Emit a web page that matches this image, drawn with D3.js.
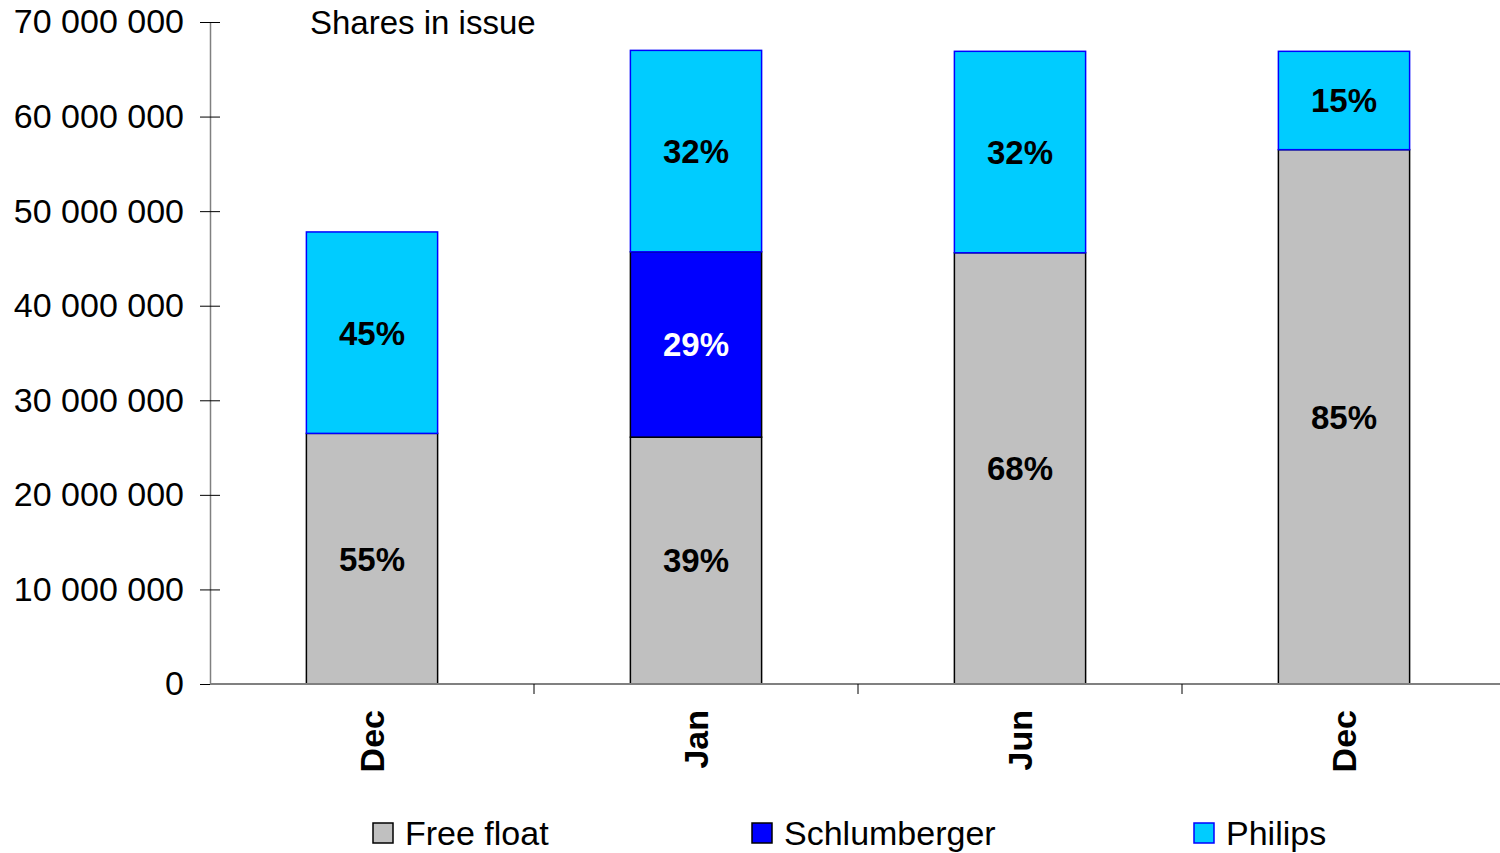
<!DOCTYPE html>
<html>
<head>
<meta charset="utf-8">
<script src="https://cdn.jsdelivr.net/npm/d3@7"></script>
<style>
  body { margin: 0; background: #fff; }
  text { font-family: "Liberation Sans", Arial, sans-serif; }
</style>
</head>
<body>
<div id="chart"></div>
<script>
var w = 1500;
var h = 853;

// data
var periods = ["Dec", "Jan", "Jun", "Dec"];
var freeFloat = [26500000, 26100000, 45600000, 56500000];
var schlumberger = [0, 19600000, 0, 0];
var philips = [21300000, 21300000, 21300000, 10400000];
var freeFloatPct = ["55%", "39%", "68%", "85%"];
var schlumbergerPct = ["", "29%", "", ""];
var philipsPct = ["45%", "32%", "32%", "15%"];
var seriesNames = ["Free float", "Schlumberger", "Philips"];
var yTicks = [0, 10000000, 20000000, 30000000, 40000000, 50000000, 60000000, 70000000];

var fills = ["#c0c0c0", "#0000ff", "#00ccff"];
var strokes = ["#000000", "#000000", "#0000ff"];
var labelColors = ["#000", "#fff", "#000"];
var pctLabels = [freeFloatPct, schlumbergerPct, philipsPct];

var rows = periods.map(function (p, i) {
    return { idx: i, period: p, "Free float": freeFloat[i], "Schlumberger": schlumberger[i], "Philips": philips[i] };
});

var stacked = d3.stack().keys(seriesNames)(rows);

var xScale = d3.scaleBand()
    .domain(rows.map(function (d) { return d.idx; }))
    .range([210, 1506])
    .paddingInner(0.595)
    .paddingOuter(0.2975);

var yScale = d3.scaleLinear()
    .domain([0, 70000000])
    .range([684, 22]);

var svg = d3.select("#chart")
    .append("svg")
    .attr("width", w)
    .attr("height", h);

// bars
stacked.forEach(function (layer, s) {
    svg.append("g")
        .selectAll("rect")
        .data(layer.filter(function (d) { return d[1] > d[0]; }))
        .enter()
        .append("rect")
        .attr("x", function (d) { return xScale(d.data.idx); })
        .attr("y", function (d) { return yScale(d[1]); })
        .attr("width", xScale.bandwidth())
        .attr("height", function (d) { return yScale(d[0]) - yScale(d[1]); })
        .attr("fill", fills[s])
        .attr("stroke", strokes[s])
        .attr("stroke-width", 1.5);
});

// percentage labels
stacked.forEach(function (layer, s) {
    svg.append("g")
        .selectAll("text")
        .data(layer.filter(function (d) { return d[1] > d[0]; }))
        .enter()
        .append("text")
        .attr("x", function (d) { return xScale(d.data.idx) + xScale.bandwidth() / 2; })
        .attr("y", function (d) { return (yScale(d[0]) + yScale(d[1])) / 2; })
        .attr("dy", "0.36em")
        .attr("text-anchor", "middle")
        .attr("font-size", 33)
        .attr("font-weight", "bold")
        .attr("fill", labelColors[s])
        .text(function (d) { return pctLabels[s][d.data.idx]; });
});

// y axis
var yAxis = d3.axisLeft(yScale)
    .tickValues(yTicks)
    .tickSize(0)
    .tickPadding(26)
    .tickFormat(function (d) { return d3.format(",")(d).replace(/,/g, " "); });

var gy = svg.append("g").attr("transform", "translate(210, 0)").call(yAxis);
gy.select(".domain").attr("stroke", "#808080").attr("stroke-width", 1.5);
gy.selectAll(".tick text").attr("font-size", 34).attr("fill", "#000");
gy.selectAll(".tick").append("line")
    .attr("x1", -10).attr("x2", 10)
    .attr("stroke", "#000").attr("stroke-width", 1);

// x axis
var boundaries = xScale.domain().slice(1).map(function (i) {
    return xScale(i) - xScale.step() * xScale.paddingInner() / 2;
});
svg.append("line")
    .attr("x1", 210).attr("x2", w)
    .attr("y1", yScale(0)).attr("y2", yScale(0))
    .attr("stroke", "#808080").attr("stroke-width", 2);
svg.append("g")
    .selectAll("line")
    .data(boundaries)
    .enter()
    .append("line")
    .attr("x1", function (d) { return d; })
    .attr("x2", function (d) { return d; })
    .attr("y1", yScale(0))
    .attr("y2", yScale(0) + 10)
    .attr("stroke", "#000").attr("stroke-width", 1);

svg.append("g")
    .selectAll("text")
    .data(rows)
    .enter()
    .append("text")
    .attr("transform", function (d) {
        return "translate(" + (xScale(d.idx) + xScale.bandwidth() / 2) + "," + (yScale(0) + 26) + ") rotate(-90)";
    })
    .attr("dy", "0.36em")
    .attr("text-anchor", "end")
    .attr("font-size", 34)
    .attr("font-weight", "bold")
    .text(function (d) { return d.period; });

// title
svg.append("text")
    .attr("x", 310)
    .attr("y", 34)
    .attr("font-size", 33)
    .text("Shares in issue");

// legend
var legendX = [373, 752, 1194];
var legend = svg.append("g")
    .selectAll("g")
    .data(seriesNames)
    .enter()
    .append("g")
    .attr("transform", function (d, i) { return "translate(" + legendX[i] + ", 823)"; });
legend.append("rect")
    .attr("width", 20).attr("height", 20)
    .attr("fill", function (d, i) { return fills[i]; })
    .attr("stroke", function (d, i) { return strokes[i]; })
    .attr("stroke-width", 1.5);
legend.append("text")
    .attr("x", 32)
    .attr("y", 22)
    .attr("font-size", 34)
    .text(function (d) { return d; });
</script>
</body>
</html>
